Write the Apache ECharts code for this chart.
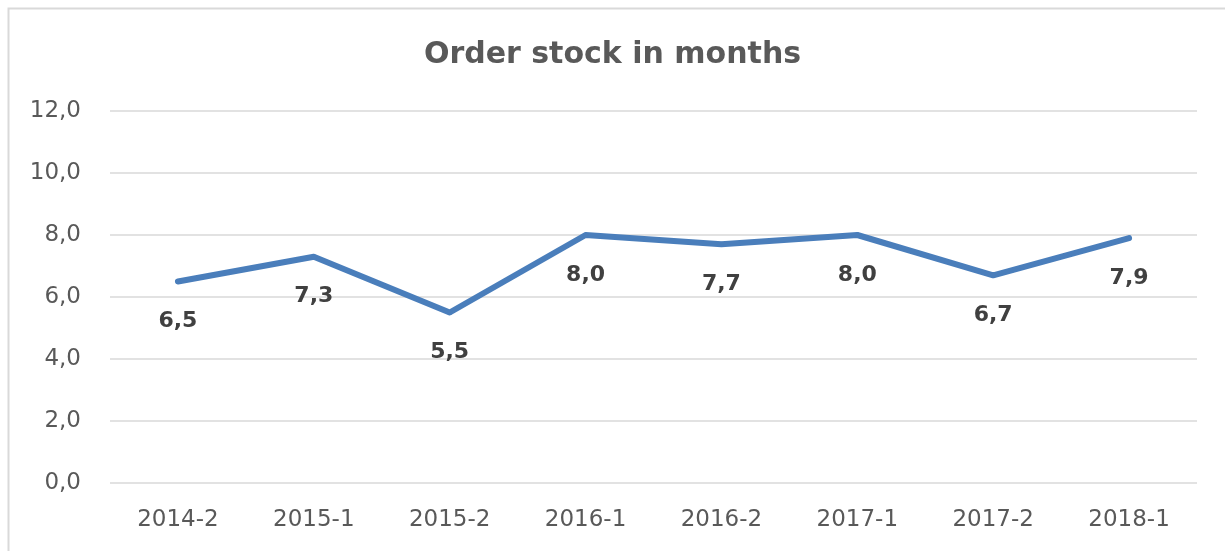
<!DOCTYPE html>
<html>
<head>
<meta charset="utf-8">
<script src="https://cdn.jsdelivr.net/npm/echarts@6/dist/echarts.min.js"></script>
<style>html,body{margin:0;padding:0;background:#fff}#c{width:1225px;height:551px}</style>
</head>
<body>
<div id="c"></div>
<script>
const titleText = 'Order stock in months';
const categories = ['2014-2','2015-1','2015-2','2016-1','2016-2','2017-1','2017-2','2018-1'];
const values = [6.5, 7.3, 5.5, 8.0, 7.7, 8.0, 6.7, 7.9];
const yTicks = [0, 2, 4, 6, 8, 10, 12];

const FONT = 'DejaVu Sans';
const fmt = v => v.toFixed(1).replace('.', ',');
const chart = echarts.init(document.getElementById('c'), null, {renderer: 'canvas'});
chart.setOption({
  animation: false,
  backgroundColor: '#fff',
  graphic: [{
    type: 'rect', left: 6, top: 6, silent: true,
    shape: {width: 1260, height: 600},
    style: {fill: 'none', stroke: '#d9d9d9', lineWidth: 2}
  }],
  title: {
    text: titleText, left: 'center', top: 35,
    textStyle: {fontFamily: FONT, fontWeight: 'bold', fontSize: 30, color: '#595959'}
  },
  grid: {left: 110, right: 28, top: 111, bottom: 68, containLabel: false},
  xAxis: {
    type: 'category', data: categories, boundaryGap: true,
    axisLine: {show: false}, axisTick: {show: false},
    axisLabel: {fontFamily: FONT, fontSize: 23, color: '#595959', margin: 26}
  },
  yAxis: {
    type: 'value', min: yTicks[0], max: yTicks[yTicks.length - 1], interval: 2,
    axisLine: {show: false}, axisTick: {show: false},
    splitLine: {lineStyle: {color: '#d9d9d9', width: 1.5}},
    axisLabel: {fontFamily: FONT, fontSize: 23, color: '#595959', margin: 29, formatter: v => fmt(v)}
  },
  series: [{
    type: 'line', data: values, showSymbol: true, symbol: 'circle', symbolSize: 5,
    lineStyle: {color: '#4a7ebb', width: 6, join: 'round', cap: 'round'},
    itemStyle: {color: '#4a7ebb', borderWidth: 0},
    label: {
      show: true, position: 'inside', offset: [0, 40],
      fontFamily: FONT, fontWeight: 'bold', fontSize: 22, color: '#404040',
      formatter: p => fmt(p.value)
    }
  }]
});
</script>
</body>
</html>
